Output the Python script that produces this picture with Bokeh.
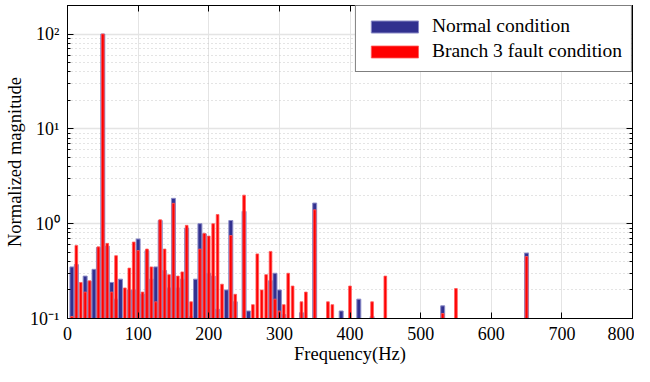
from bokeh.plotting import figure
from bokeh.models import (ColumnDataSource, Range1d, LogTicker, LinearAxis, LogAxis,
                          SingleIntervalTicker, CustomJSTickFormatter)
from bokeh.embed import file_html
from bokeh.resources import INLINE

# ---- data ----
freq = [6.25, 12.5, 18.75, 25, 31.25, 37.5, 43.75, 50, 56.25, 62.5, 68.75, 75, 81.25,
        87.5, 93.75, 100, 106.25, 112.5, 118.75, 125, 131.25, 137.5, 143.75, 150,
        156.25, 162.5, 168.75, 175, 181.25, 187.5, 193.75, 200, 206.25, 212.5, 218.75,
        225, 231.25, 237.5, 250, 256.25, 262.5, 268.75, 275, 281.25, 287.5, 293.75,
        300, 306.25, 312.5, 318.75, 331.25, 337.5, 350, 368.75, 375, 387.5, 400,
        412.5, 431.25, 450, 531.25, 550, 650]
normal = [0.35, 0.37, 0.10, 0.28, 0.245, 0.33, 0.56, 100, 0.58, 0.24, 0.16, 0.26, 0.10,
          0.20, 0.20, 0.69, 0.18, 0.52, 0.26, 0.35, 1.08, 0.32, 0.21, 1.85,
          0.21, 0.26, 0.90, 0.105, 0.26, 1.0, 0.78, 0.30, 0.28, 0.125, 0.10,
          0.20, 1.08, 0.15, 1.35, 0.12, 0.10, 0.10, 0.10, 0.10, 0.25, 0.30,
          0.20, 0.11, 0.10, 0.10, 0.115, 0.10, 1.65, 0.10, 0.10, 0.12, 0.10,
          0.16, 0.105, 0.10, 0.136, 0.10, 0.49]
fault = [0.105, 0.59, 0.24, 0.19, 0.25, 0.10, 0.57, 100, 0.62, 0.19, 0.46, 0.10, 0.21,
         0.34, 0.64, 0.52, 0.19, 0.54, 0.35, 0.15, 1.10, 0.54, 0.29, 1.64,
         0.28, 0.31, 0.96, 0.15, 0.10, 0.54, 0.79, 0.74, 1.0, 1.25, 0.23,
         0.10, 0.75, 0.18, 2.0, 0.10, 0.14, 0.48, 0.20, 0.29, 0.51, 0.16,
         0.12, 0.14, 0.30, 0.22, 0.15, 0.19, 1.40, 0.15, 0.14, 0.10, 0.22,
         0.10, 0.15, 0.28, 0.113, 0.207, 0.45]

series_labels = ["Normal condition", "Branch 3 fault condition"]
x_label = "Frequency(Hz)"
y_label = "Normalized magnitude"

FONT = "Liberation Serif"
BLUE = "#31308f"
RED = "#ff0000"

src = ColumnDataSource(dict(freq=freq, normal=normal, fault=fault))

p = figure(width=634, height=366, x_range=Range1d(0, 800), y_range=Range1d(0.1, 200),
           y_axis_type="log", output_backend="svg", toolbar_location=None,
           min_border_left=67, min_border_right=2, min_border_top=5, min_border_bottom=48,
           background_fill_color="white", border_fill_color="white")

p.vbar(x="freq", top="normal", bottom=0.1, width=5.6, source=src,
       fill_color=BLUE, line_color="#8a8ac6", line_width=1, legend_label=series_labels[0])
p.vbar(x="freq", top="fault", bottom=0.1, width=3.8, source=src,
       fill_color=RED, line_color="#ff5a5a", line_width=0.8, legend_label=series_labels[1])

# frame
p.outline_line_color = "black"
p.outline_line_width = 1
p.outline_line_alpha = 1

fmt = CustomJSTickFormatter(code="""
const sup = {"-":"\\u207b","0":"\\u2070","1":"\\u00b9","2":"\\u00b2","3":"\\u00b3"};
const e = Math.round(Math.log10(tick));
return "10" + String(e).split("").map(c => sup[c]).join("");
""")

xa = p.xaxis[0]
xa.ticker = SingleIntervalTicker(interval=100, num_minor_ticks=0)
ya = p.yaxis[0]
ya.ticker = LogTicker(num_minor_ticks=10)
ya.formatter = fmt

for ax in (xa, ya):
    ax.major_label_text_font = FONT
    ax.major_label_text_font_size = "18px"
    ax.major_label_text_color = "black"
    ax.axis_label_text_font = FONT
    ax.axis_label_text_font_size = "18.5px"
    ax.axis_label_text_font_style = "normal"
    ax.axis_label_text_color = "black"
    ax.axis_line_color = "black"
    ax.major_tick_in = 6
    ax.major_tick_out = 0
    ax.minor_tick_in = 3
    ax.minor_tick_out = 0
    ax.major_tick_line_color = "black"
    ax.minor_tick_line_color = "black"

xa.axis_label = x_label
xa.major_label_standoff = 8
xa.axis_label_standoff = 1
ya.axis_label = y_label
ya.major_label_standoff = 8
ya.axis_label_standoff = 2

# mirrored inward ticks on the top and right edges (MATLAB box)
blank = CustomJSTickFormatter(code='return "";')
top_ax = LinearAxis(ticker=SingleIntervalTicker(interval=100, num_minor_ticks=0), formatter=blank)
right_ax = LogAxis(ticker=LogTicker(num_minor_ticks=10), formatter=blank)
for ax in (top_ax, right_ax):
    ax.major_label_text_font_size = "1px"
    ax.major_label_standoff = 0
    ax.major_tick_in = 6
    ax.major_tick_out = 0
    ax.minor_tick_in = 3
    ax.minor_tick_out = 0
    ax.axis_line_color = "black"
    ax.major_tick_line_color = "black"
    ax.minor_tick_line_color = "black"
p.add_layout(top_ax, "above")
p.add_layout(right_ax, "right")

# grid
p.xgrid.ticker = xa.ticker
p.xgrid.grid_line_color = "#e4e4e4"
p.xgrid.grid_line_width = 1
p.ygrid.grid_line_color = "#e4e4e4"
p.ygrid.grid_line_width = 1.5
p.ygrid.minor_grid_line_color = "#c8c8c8"
p.ygrid.minor_grid_line_dash = "1 3"
p.ygrid.minor_grid_line_width = 1

# legend
lg = p.legend[0]
lg.location = "top_right"
lg.margin = 0
lg.padding = 9
lg.spacing = 3
lg.glyph_width = 59
lg.glyph_height = 15
lg.label_standoff = 8
lg.label_text_font = FONT
lg.label_text_font_size = "19.5px"
lg.label_text_color = "black"
lg.border_line_color = "black"
lg.border_line_width = 1
lg.background_fill_alpha = 1

open("out.html", "w").write(file_html(p, INLINE))
